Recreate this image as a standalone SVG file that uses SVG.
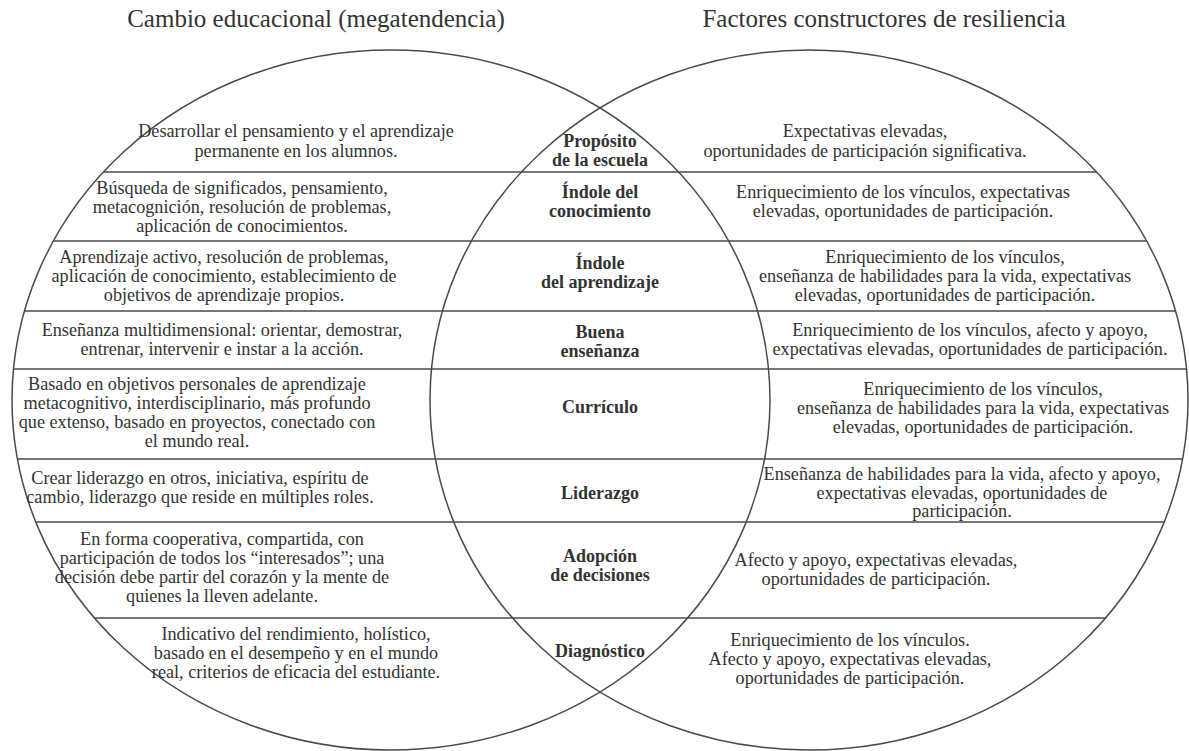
<svg xmlns="http://www.w3.org/2000/svg" width="1189" height="751" viewBox="0 0 1189 751">
<style>
text{font-family:"Liberation Serif","DejaVu Serif",serif;fill:#333333;text-anchor:middle}
.t{font-size:25px}
.b{font-size:18.2px}
.c{font-size:18px;font-weight:bold}
.shape{fill:none;stroke:#4a4a4a;stroke-width:1.5}
.sep{stroke:#4a4a4a;stroke-width:1.5}
</style>
<rect width="1189" height="751" fill="#ffffff"/>
<g id="titles">
<text class="t" x="316" y="27">Cambio educacional (megatendencia)</text>
<text class="t" x="884" y="27">Factores constructores de resiliencia</text>
</g>
<g id="circles">
<ellipse id="circle-left" class="shape" cx="391" cy="400" rx="379" ry="350"/>
<ellipse id="circle-right" class="shape" cx="809" cy="400" rx="379" ry="350"/>
</g>
<g id="connectors">
<line class="sep" x1="103.4" y1="172" x2="1096.6" y2="172"/>
<line class="sep" x1="53.4" y1="241" x2="1146.6" y2="241"/>
<line class="sep" x1="24.5" y1="311" x2="1175.5" y2="311"/>
<line class="sep" x1="13.5" y1="369" x2="1186.5" y2="369"/>
<line class="sep" x1="17.4" y1="459" x2="1182.6" y2="459"/>
<line class="sep" x1="35.8" y1="522" x2="1164.2" y2="522"/>
<line class="sep" x1="94.5" y1="618" x2="1105.5" y2="618"/>
</g>
<g id="row-proposito">
<text class="b" x="296" y="137">Desarrollar el pensamiento y el aprendizaje</text>
<text class="b" x="296" y="157">permanente en los alumnos.</text>
<text class="c" x="600" y="147">Propósito</text>
<text class="c" x="600" y="166">de la escuela</text>
<text class="b" x="865" y="137">Expectativas elevadas,</text>
<text class="b" x="865" y="157">oportunidades de participación significativa.</text>
</g>
<g id="row-conocimiento">
<text class="b" x="242" y="194">Búsqueda de significados, pensamiento,</text>
<text class="b" x="242" y="213">metacognición, resolución de problemas,</text>
<text class="b" x="242" y="232">aplicación de conocimientos.</text>
<text class="c" x="600" y="198">Índole del</text>
<text class="c" x="600" y="217">conocimiento</text>
<text class="b" x="903" y="198">Enriquecimiento de los vínculos, expectativas</text>
<text class="b" x="903" y="217">elevadas, oportunidades de participación.</text>
</g>
<g id="row-aprendizaje">
<text class="b" x="224" y="263">Aprendizaje activo, resolución de problemas,</text>
<text class="b" x="224" y="282">aplicación de conocimiento, establecimiento de</text>
<text class="b" x="224" y="301">objetivos de aprendizaje propios.</text>
<text class="c" x="600" y="269">Índole</text>
<text class="c" x="600" y="288">del aprendizaje</text>
<text class="b" x="945" y="263">Enriquecimiento de los vínculos,</text>
<text class="b" x="945" y="282">enseñanza de habilidades para la vida, expectativas</text>
<text class="b" x="945" y="301">elevadas, oportunidades de participación.</text>
</g>
<g id="row-ensenanza">
<text class="b" x="222" y="336">Enseñanza multidimensional: orientar, demostrar,</text>
<text class="b" x="222" y="355">entrenar, intervenir e instar a la acción.</text>
<text class="c" x="600" y="338">Buena</text>
<text class="c" x="600" y="357">enseñanza</text>
<text class="b" x="970" y="336">Enriquecimiento de los vínculos, afecto y apoyo,</text>
<text class="b" x="970" y="355">expectativas elevadas, oportunidades de participación.</text>
</g>
<g id="row-curriculo">
<text class="b" x="197" y="390">Basado en objetivos personales de aprendizaje</text>
<text class="b" x="197" y="409">metacognitivo, interdisciplinario, más profundo</text>
<text class="b" x="197" y="428">que extenso, basado en proyectos, conectado con</text>
<text class="b" x="197" y="447">el mundo real.</text>
<text class="c" x="600" y="413">Currículo</text>
<text class="b" x="983" y="395">Enriquecimiento de los vínculos,</text>
<text class="b" x="983" y="414">enseñanza de habilidades para la vida, expectativas</text>
<text class="b" x="983" y="433">elevadas, oportunidades de participación.</text>
</g>
<g id="row-liderazgo">
<text class="b" x="200" y="484">Crear liderazgo en otros, iniciativa, espíritu de</text>
<text class="b" x="200" y="503">cambio, liderazgo que reside en múltiples roles.</text>
<text class="c" x="600" y="499">Liderazgo</text>
<text class="b" x="962" y="480">Enseñanza de habilidades para la vida, afecto y apoyo,</text>
<text class="b" x="962" y="499">expectativas elevadas, oportunidades de</text>
<text class="b" x="962" y="517">participación.</text>
</g>
<g id="row-decisiones">
<text class="b" x="222" y="545">En forma cooperativa, compartida, con</text>
<text class="b" x="222" y="564">participación de todos los “interesados”; una</text>
<text class="b" x="222" y="583">decisión debe partir del corazón y la mente de</text>
<text class="b" x="222" y="602">quienes la lleven adelante.</text>
<text class="c" x="600" y="562">Adopción</text>
<text class="c" x="600" y="581">de decisiones</text>
<text class="b" x="876" y="566">Afecto y apoyo, expectativas elevadas,</text>
<text class="b" x="876" y="585">oportunidades de participación.</text>
</g>
<g id="row-diagnostico">
<text class="b" x="296" y="640">Indicativo del rendimiento, holístico,</text>
<text class="b" x="296" y="659">basado en el desempeño y en el mundo</text>
<text class="b" x="296" y="678">real, criterios de eficacia del estudiante.</text>
<text class="c" x="600" y="657">Diagnóstico</text>
<text class="b" x="850" y="646">Enriquecimiento de los vínculos.</text>
<text class="b" x="850" y="665">Afecto y apoyo, expectativas elevadas,</text>
<text class="b" x="850" y="684">oportunidades de participación.</text>
</g>
</svg>
